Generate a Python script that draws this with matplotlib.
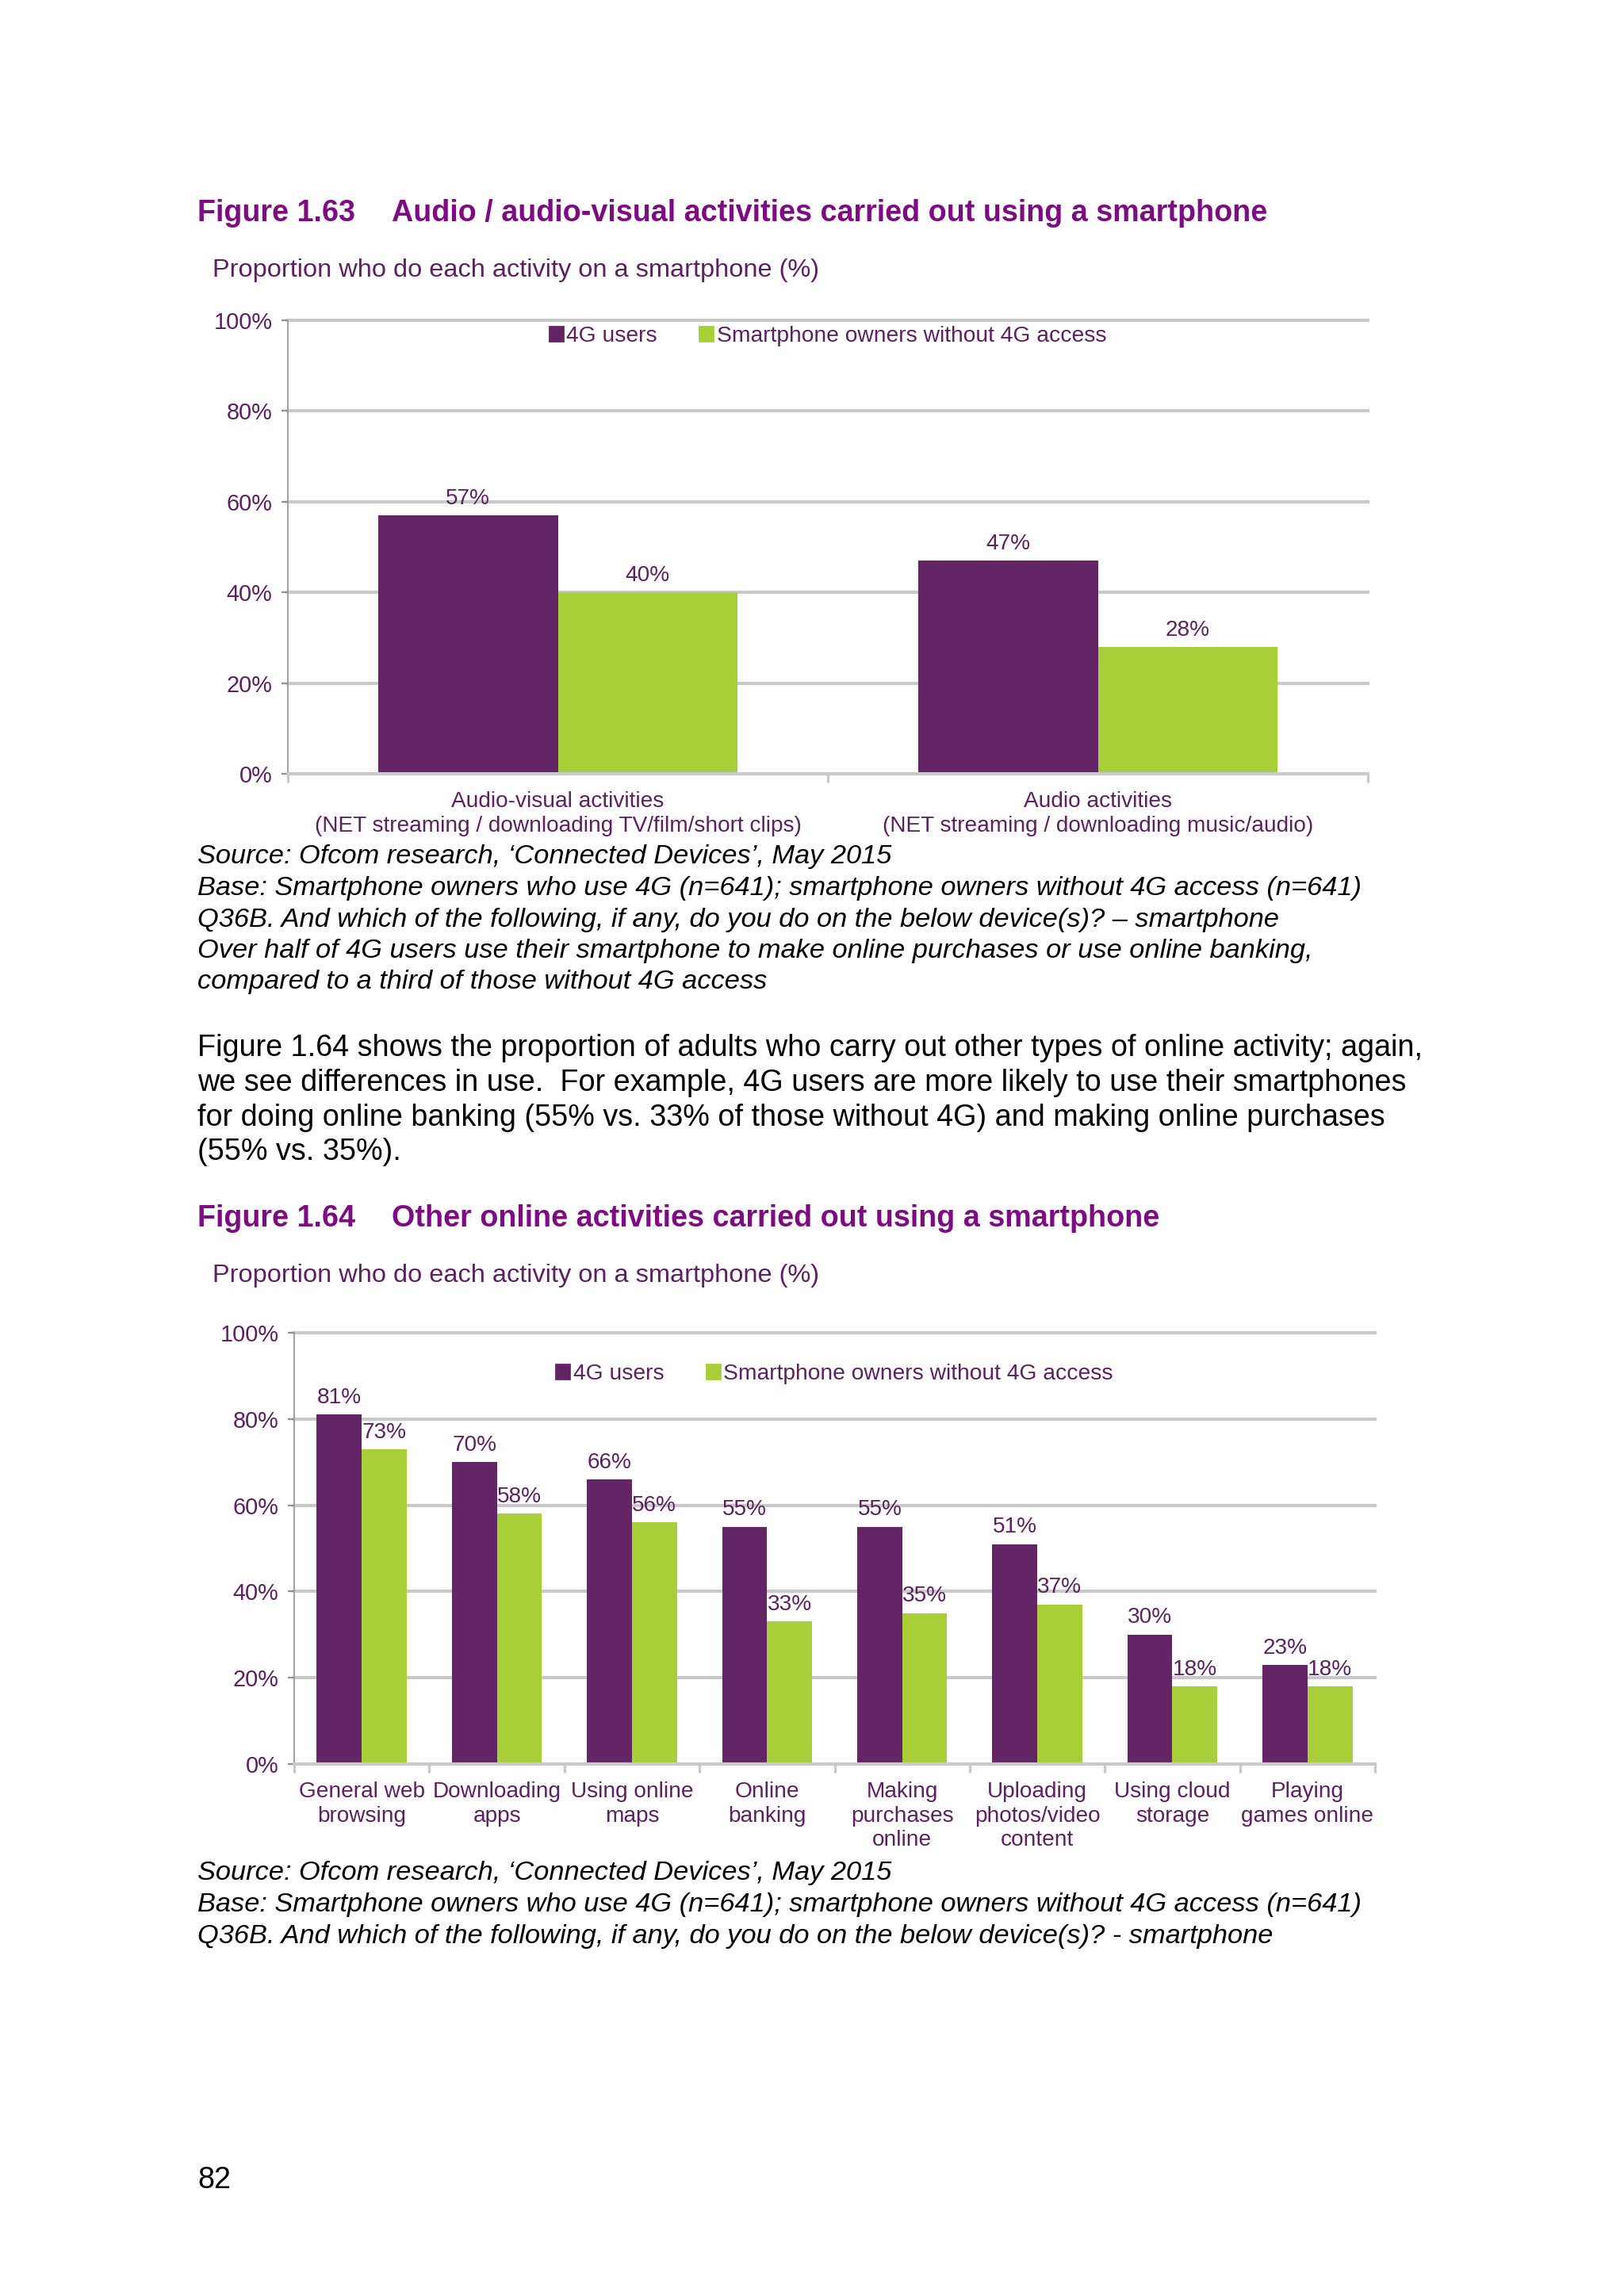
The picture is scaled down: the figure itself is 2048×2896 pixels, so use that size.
import matplotlib.pyplot as plt
from matplotlib.patches import Patch
import numpy as np

plt.rcParams['font.family'] = ['Liberation Sans', 'DejaVu Sans']

# data
series = ['4G users', 'Smartphone owners without 4G access']

cats1 = ['Audio-visual activities\n(NET streaming / downloading TV/film/short clips)',
         'Audio activities\n(NET streaming / downloading music/audio)']
users4g_1 = [57, 47]
no4g_1 = [40, 28]

cats2 = ['General web\nbrowsing', 'Downloading\napps', 'Using online\nmaps', 'Online\nbanking',
         'Making\npurchases\nonline', 'Uploading\nphotos/video\ncontent', 'Using cloud\nstorage',
         'Playing\ngames online']
users4g_2 = [81, 70, 66, 55, 55, 51, 30, 23]
no4g_2 = [73, 58, 56, 33, 35, 37, 18, 18]

yticks = [0, 20, 40, 60, 80, 100]

PURPLE = '#642566'
GREEN = '#A9CF38'
TXT = '#5B2160'
TITLE = '#7D0C82'
GRID = '#C9C9C9'

W, H = 2048, 2896
fig = plt.figure(figsize=(W / 200, H / 200), dpi=200)


def fy(px):  # pixel row from top -> figure fraction
    return 1 - px / H


def fx(px):
    return px / W


def bar_chart(rect, cats, a, b, legend_y, fs=10.1):
    ax = fig.add_axes(rect)
    x = np.arange(len(cats))
    w = 0.333
    b1 = ax.bar(x - w / 2, a, w, color=PURPLE, zorder=2)
    b2 = ax.bar(x + w / 2, b, w, color=GREEN, zorder=2)
    for bars in (b1, b2):
        ax.bar_label(bars, labels=[f'{v}%' for v in bars.datavalues], padding=3,
                     color=TXT, fontsize=fs)
    ax.set_xlim(-0.5, len(cats) - 0.5)
    ax.set_ylim(0, 100)
    ax.set_yticks(yticks)
    ax.set_yticklabels([f'{t}%' for t in yticks], color=TXT, fontsize=fs + 0.3)
    for t in yticks[1:]:
        ax.axhline(t, color=GRID, lw=1.5, zorder=1, clip_on=False)
    ax.set_xticks(x)
    ax.set_xticklabels(cats, color=TXT, fontsize=fs, linespacing=1.22)
    ax.set_xticks(np.arange(len(cats) + 1) - 0.5, minor=True)
    ax.tick_params(axis='x', which='major', length=0, pad=8)
    ax.tick_params(axis='x', which='minor', length=4, width=1.2, color=GRID)
    ax.tick_params(axis='y', length=3, width=0.8, color='#909090', pad=4)
    for s in ('top', 'right'):
        ax.spines[s].set_visible(False)
    ax.spines['left'].set_color('#A0A0A0')
    ax.spines['left'].set_linewidth(0.7)
    ax.spines['bottom'].set_color(GRID)
    ax.spines['bottom'].set_linewidth(1.5)
    handles = [Patch(color=PURPLE, label=series[0]), Patch(color=GREEN, label=series[1])]
    leg = ax.legend(handles=handles, loc='center', bbox_to_anchor=(0.5, legend_y), ncol=2,
                    frameon=False, fontsize=fs + 0.1, handlelength=0.6, handleheight=0.6,
                    handletextpad=0.15, columnspacing=1.9)
    for t in leg.get_texts():
        t.set_color(TXT)
    return ax


# chart 1
bar_chart([fx(363), fy(976), fx(1725) - fx(363), fy(404) - fy(976)],
          cats1, users4g_1, no4g_1, legend_y=0.965)

# chart 2
bar_chart([fx(371), fy(2225), fx(1734) - fx(371), fy(1681) - fy(2225)],
          cats2, users4g_2, no4g_2, legend_y=0.905)

# titles and page text
TFS = 13.6
fig.text(fx(249), fy(269), 'Figure 1.63', color=TITLE, fontsize=TFS, weight='bold', va='center')
fig.text(fx(494), fy(269), 'Audio / audio-visual activities carried out using a smartphone',
         color=TITLE, fontsize=TFS, weight='bold', va='center')
fig.text(fx(268), fy(341), 'Proportion who do each activity on a smartphone (%)',
         color=TXT, fontsize=11.7, va='center')

SFS = 12.4
src1 = ['Source: Ofcom research, \u2018Connected Devices\u2019, May 2015',
        'Base: Smartphone owners who use 4G (n=641); smartphone owners without 4G access (n=641)',
        'Q36B. And which of the following, if any, do you do on the below device(s)? \u2013 smartphone',
        'Over half of 4G users use their smartphone to make online purchases or use online banking,',
        'compared to a third of those without 4G access']
for line, y in zip(src1, [1081, 1121, 1160, 1200, 1239]):
    fig.text(fx(249), fy(y), line, style='italic', fontsize=SFS, va='center', color='black')

PFS = 13.6
para = ['Figure 1.64 shows the proportion of adults who carry out other types of online activity; again,',
        'we see differences in use.  For example, 4G users are more likely to use their smartphones',
        'for doing online banking (55% vs. 33% of those without 4G) and making online purchases',
        '(55% vs. 35%).']
for line, y in zip(para, [1322, 1366, 1410, 1453]):
    fig.text(fx(249), fy(y), line, fontsize=PFS, va='center', color='black')

fig.text(fx(249), fy(1537), 'Figure 1.64', color=TITLE, fontsize=TFS, weight='bold', va='center')
fig.text(fx(494), fy(1537), 'Other online activities carried out using a smartphone',
         color=TITLE, fontsize=TFS, weight='bold', va='center')
fig.text(fx(268), fy(1609), 'Proportion who do each activity on a smartphone (%)',
         color=TXT, fontsize=11.7, va='center')

src2 = ['Source: Ofcom research, \u2018Connected Devices\u2019, May 2015',
        'Base: Smartphone owners who use 4G (n=641); smartphone owners without 4G access (n=641)',
        'Q36B. And which of the following, if any, do you do on the below device(s)? - smartphone']
for line, y in zip(src2, [2363, 2403, 2442]):
    fig.text(fx(249), fy(y), line, style='italic', fontsize=SFS, va='center', color='black')

fig.text(fx(249), fy(2750), '82', fontsize=PFS, va='center', color='black')

fig.savefig('out.png', dpi=200, facecolor='white')
